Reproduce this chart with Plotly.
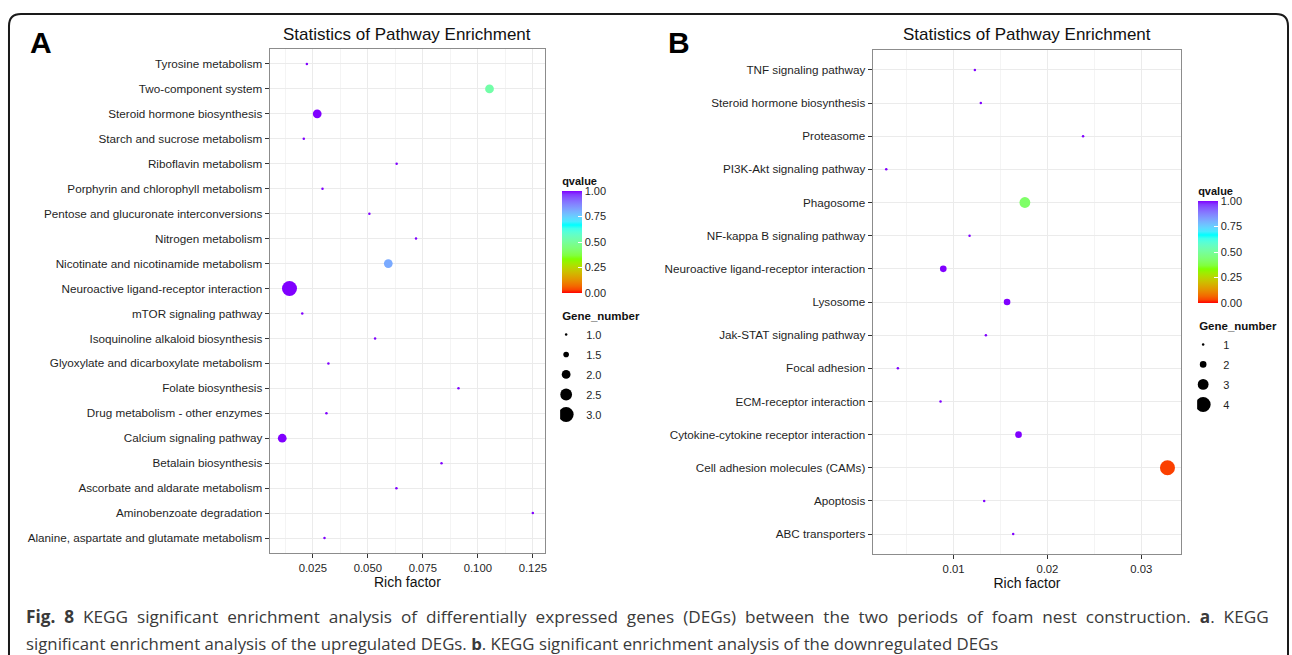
import plotly.graph_objects as go

W, H = 1292, 655

# ---------------- data ----------------
pathA = ["Tyrosine metabolism", "Two-component system", "Steroid hormone biosynthesis",
         "Starch and sucrose metabolism", "Riboflavin metabolism",
         "Porphyrin and chlorophyll metabolism", "Pentose and glucuronate interconversions",
         "Nitrogen metabolism", "Nicotinate and nicotinamide metabolism",
         "Neuroactive ligand-receptor interaction", "mTOR signaling pathway",
         "Isoquinoline alkaloid biosynthesis", "Glyoxylate and dicarboxylate metabolism",
         "Folate biosynthesis", "Drug metabolism - other enzymes", "Calcium signaling pathway",
         "Betalain biosynthesis", "Ascorbate and aldarate metabolism",
         "Aminobenzoate degradation", "Alanine, aspartate and glutamate metabolism"]
richA = [0.0223, 0.1053, 0.0270, 0.0209, 0.0631, 0.0294, 0.0507, 0.0719, 0.0593, 0.0144,
         0.0202, 0.0533, 0.0321, 0.0912, 0.0312, 0.0111, 0.0835, 0.0630, 0.1250, 0.0303]
geneA = [1, 2, 2, 1, 1, 1, 1, 1, 2, 3, 1, 1, 1, 1, 1, 2, 1, 1, 1, 1]
qA = [1.0, 0.52, 1.0, 1.0, 1.0, 1.0, 1.0, 1.0, 0.81, 1.0,
      1.0, 1.0, 1.0, 1.0, 1.0, 1.0, 1.0, 1.0, 1.0, 1.0]

pathB = ["TNF signaling pathway", "Steroid hormone biosynthesis", "Proteasome",
         "PI3K-Akt signaling pathway", "Phagosome", "NF-kappa B signaling pathway",
         "Neuroactive ligand-receptor interaction", "Lysosome", "Jak-STAT signaling pathway",
         "Focal adhesion", "ECM-receptor interaction", "Cytokine-cytokine receptor interaction",
         "Cell adhesion molecules (CAMs)", "Apoptosis", "ABC transporters"]
richB = [0.01227, 0.0129, 0.0238, 0.00282, 0.0176, 0.0117, 0.0089, 0.0157, 0.01344,
         0.00406, 0.00861, 0.01692, 0.0328, 0.01326, 0.01635]
geneB = [1, 1, 1, 1, 3, 1, 2, 2, 1, 1, 1, 2, 4, 1, 1]
qB = [1.0, 1.0, 1.0, 1.0, 0.42, 1.0, 1.0, 1.0, 1.0, 1.0, 1.0, 1.0, 0.03, 1.0, 1.0]

xticksA = [0.025, 0.050, 0.075, 0.100, 0.125]
xticksB = [0.01, 0.02, 0.03]
qticks = [0.0, 0.25, 0.5, 0.75, 1.0]
legendA = [1.0, 1.5, 2.0, 2.5, 3.0]
legendB = [1, 2, 3, 4]

caption1 = ("<b>Fig. 8</b> KEGG significant enrichment analysis of differentially expressed genes (DEGs) "
            "between the two periods of foam nest construction. <b>a</b>. KEGG")
caption2 = ("significant enrichment analysis of the upregulated DEGs. <b>b</b>. KEGG significant "
            "enrichment analysis of the downregulated DEGs")

# ---------------- colour scale (rainbow(4) interpolated in Lab) ----------------
base = ["#FF0000", "#80FF00", "#00FFFF", "#8000FF"]

def hex2rgb(h):
    return [int(h[i:i + 2], 16) / 255 for i in (1, 3, 5)]

def srgb2lin(c):
    return c / 12.92 if c <= 0.04045 else ((c + 0.055) / 1.055) ** 2.4

def lin2srgb(c):
    c = max(0.0, min(1.0, c))
    return 12.92 * c if c <= 0.0031308 else 1.055 * c ** (1 / 2.4) - 0.055

Xn, Yn, Zn = 0.95047, 1.0, 1.08883

def f(t):
    return t ** (1 / 3) if t > 0.008856 else 7.787 * t + 16 / 116

def finv(t):
    return t ** 3 if t ** 3 > 0.008856 else (t - 16 / 116) / 7.787

def rgb2lab(rgb):
    r, g, b = [srgb2lin(c) for c in rgb]
    X = 0.4124 * r + 0.3576 * g + 0.1805 * b
    Y = 0.2126 * r + 0.7152 * g + 0.0722 * b
    Z = 0.0193 * r + 0.1192 * g + 0.9505 * b
    fx, fy, fz = f(X / Xn), f(Y / Yn), f(Z / Zn)
    return [116 * fy - 16, 500 * (fx - fy), 200 * (fy - fz)]

def lab2rgb(lab):
    L, a, b = lab
    fy = (L + 16) / 116
    fx = fy + a / 500
    fz = fy - b / 200
    X, Y, Z = Xn * finv(fx), Yn * finv(fy), Zn * finv(fz)
    r = 3.2406 * X - 1.5372 * Y - 0.4986 * Z
    g = -0.9689 * X + 1.8758 * Y + 0.0415 * Z
    bb = 0.0557 * X - 0.2040 * Y + 1.0570 * Z
    return "#%02X%02X%02X" % tuple(round(lin2srgb(c) * 255) for c in (r, g, bb))

labs = [rgb2lab(hex2rgb(h)) for h in base]
cscale = []
N = 30
for i in range(N + 1):
    t = i / N
    seg = min(int(t * 3), 2)
    u = t * 3 - seg
    lab = [labs[seg][k] + (labs[seg + 1][k] - labs[seg][k]) * u for k in range(3)]
    cscale.append([t, lab2rgb(lab)])

def dia(g, gmin, gmax):
    return 2.5 + 12.5 * (g - gmin) / (gmax - gmin)

# ---------------- geometry helpers ----------------
def px(x):
    return x / W

def py(y):
    return 1 - y / H

FONT = "Liberation Sans, Arial, Helvetica, sans-serif"
TXT = "#1F1F1F"
GRID = "#EBEBEB"
MINOR = "#F4F4F4"
BORDER = "#8C8C8C"
TICKSZ = 11.7

def colorbar(xl, ymid):
    return dict(x=px(xl), xanchor="left", y=py(ymid), yanchor="middle",
                len=119, lenmode="pixels", thickness=20, thicknessmode="pixels",
                xpad=0, ypad=0, outlinewidth=0,
                tickvals=qticks, ticktext=["%.2f" % v for v in qticks],
                ticks="inside", ticklen=4, tickcolor="white",
                tickfont=dict(family=FONT, size=11, color=TXT),
                title=dict(text="<b>qvalue</b>", side="top",
                           font=dict(family=FONT, size=11, color="#111")))

fig = go.Figure()

# ---------------- panel A ----------------
fig.add_trace(go.Scatter(
    x=richA, y=pathA, mode="markers", xaxis="x", yaxis="y", showlegend=False,
    marker=dict(size=[dia(g, 1, 3) for g in geneA], color=qA, cmin=0, cmax=1,
                colorscale=cscale, line=dict(width=0), opacity=1,
                showscale=True, colorbar=colorbar(563, 233.5)),
    hoverinfo="x+y"))

for v in legendA:
    fig.add_trace(go.Scatter(
        x=[None], y=[None], mode="markers", xaxis="x", yaxis="y", legend="legend",
        legendgroup="a%.1f" % v,
        name="%.1f" % v, marker=dict(size=dia(v, 1, 3), color="black"), showlegend=True))

# ---------------- panel B ----------------
fig.add_trace(go.Scatter(
    x=richB, y=pathB, mode="markers", xaxis="x2", yaxis="y2", showlegend=False,
    marker=dict(size=[dia(g, 1, 4) for g in geneB], color=qB, cmin=0, cmax=1,
                colorscale=cscale, line=dict(width=0), opacity=1,
                showscale=True, colorbar=colorbar(1200, 243.5)),
    hoverinfo="x+y"))

for v in legendB:
    fig.add_trace(go.Scatter(
        x=[None], y=[None], mode="markers", xaxis="x2", yaxis="y2", legend="legend2",
        legendgroup="b%d" % v,
        name="%d" % v, marker=dict(size=dia(v, 1, 4), color="black"), showlegend=True))

def xaxis_cfg(domain, rng, ticks, fmt, minor_vals, anchor):
    return dict(domain=domain, range=rng, tickvals=ticks, ticktext=[fmt % t for t in ticks],
                anchor=anchor,
                showgrid=True, gridcolor=GRID, gridwidth=1, zeroline=False,
                showline=True, mirror=True, linecolor=BORDER, linewidth=1,
                ticks="outside", ticklen=4, tickcolor="#333333",
                tickfont=dict(family=FONT, size=11.3, color=TXT),
                minor=dict(tickvals=minor_vals, showgrid=True, gridcolor=MINOR, ticks=""),
                title=dict(text="Rich factor", font=dict(family=FONT, size=14, color="#111"),
                           standoff=2))

def yaxis_cfg(domain, cats, anchor):
    n = len(cats)
    return dict(domain=domain, type="category", categoryorder="array", categoryarray=cats,
                range=[n - 1 + 0.6, -0.6], anchor=anchor,
                showgrid=True, gridcolor=GRID, gridwidth=1, zeroline=False,
                showline=True, mirror=True, linecolor=BORDER, linewidth=1,
                ticks="outside", ticklen=4, tickcolor="#333333",
                tickfont=dict(family=FONT, size=TICKSZ, color=TXT))

def legend_cfg(xl, ytop):
    return dict(x=px(xl), xanchor="left", y=py(ytop), yanchor="top",
                title=dict(text="<b>Gene_number</b>", font=dict(family=FONT, size=11.5, color="#111")),
                itemsizing="trace", indentation=-14, tracegroupgap=1, bgcolor="rgba(0,0,0,0)",
                font=dict(family=FONT, size=11, color=TXT))

fig.update_layout(
    width=W, height=H, margin=dict(l=0, r=0, t=0, b=0),
    paper_bgcolor="white", plot_bgcolor="white",
    xaxis=xaxis_cfg([px(270), px(546)], [0.00535, 0.1306], xticksA, "%.3f",
                    [0.0125, 0.0375, 0.0625, 0.0875, 0.1125], "y"),
    yaxis=yaxis_cfg([py(553), py(49)], pathA, "x"),
    xaxis2=xaxis_cfg([px(874), px(1183)], [0.00137, 0.03426], xticksB, "%.2f",
                     [0.005, 0.015, 0.025], "y2"),
    yaxis2=yaxis_cfg([py(554), py(50)], pathB, "x2"),
    legend=legend_cfg(561, 305),
    legend2=legend_cfg(1199, 315),
)

ann = []
for xc in (408, 1028.5):
    ann.append(dict(text="Statistics of Pathway Enrichment", x=px(xc), y=py(35), xref="paper", yref="paper",
                    showarrow=False, xanchor="center", yanchor="middle",
                    font=dict(family=FONT, size=17, color="#111")))
ann.append(dict(text="<b>A</b>", x=px(28), y=py(43), xref="paper", yref="paper", showarrow=False,
                xanchor="left", yanchor="middle", font=dict(family=FONT, size=30, color="black")))
ann.append(dict(text="<b>B</b>", x=px(667), y=py(43), xref="paper", yref="paper", showarrow=False,
                xanchor="left", yanchor="middle", font=dict(family=FONT, size=30, color="black")))
CAP = "Open Sans, Noto Sans, sans-serif"
# first caption line is justified in the reference: widen its word gaps
ann.append(dict(text=" &nbsp;".join(caption1.split(" ")).replace("<b &nbsp;", "<b "),
                x=px(24), y=py(616), xref="paper", yref="paper", showarrow=False,
                xanchor="left", yanchor="middle", align="left",
                font=dict(family=CAP, size=17.2, color="#3A3A3A")))
ann.append(dict(text=caption2,
                x=px(24), y=py(643), xref="paper", yref="paper", showarrow=False,
                xanchor="left", yanchor="middle", align="left",
                font=dict(family=CAP, size=16.8, color="#3A3A3A")))
fig.update_layout(annotations=ann)

# outer frame with rounded top corners
x0, x1, y0, r = 9, 1290, 14, 12
path = (f"M {px(x0)},{py(700)} L {px(x0)},{py(y0 + r)} Q {px(x0)},{py(y0)} {px(x0 + r)},{py(y0)} "
        f"L {px(x1 - r)},{py(y0)} Q {px(x1)},{py(y0)} {px(x1)},{py(y0 + r)} L {px(x1)},{py(700)}")
fig.add_shape(type="path", path=path, xref="paper", yref="paper",
              line=dict(color="#1A1A1A", width=2))

fig.write_html("out.html")
